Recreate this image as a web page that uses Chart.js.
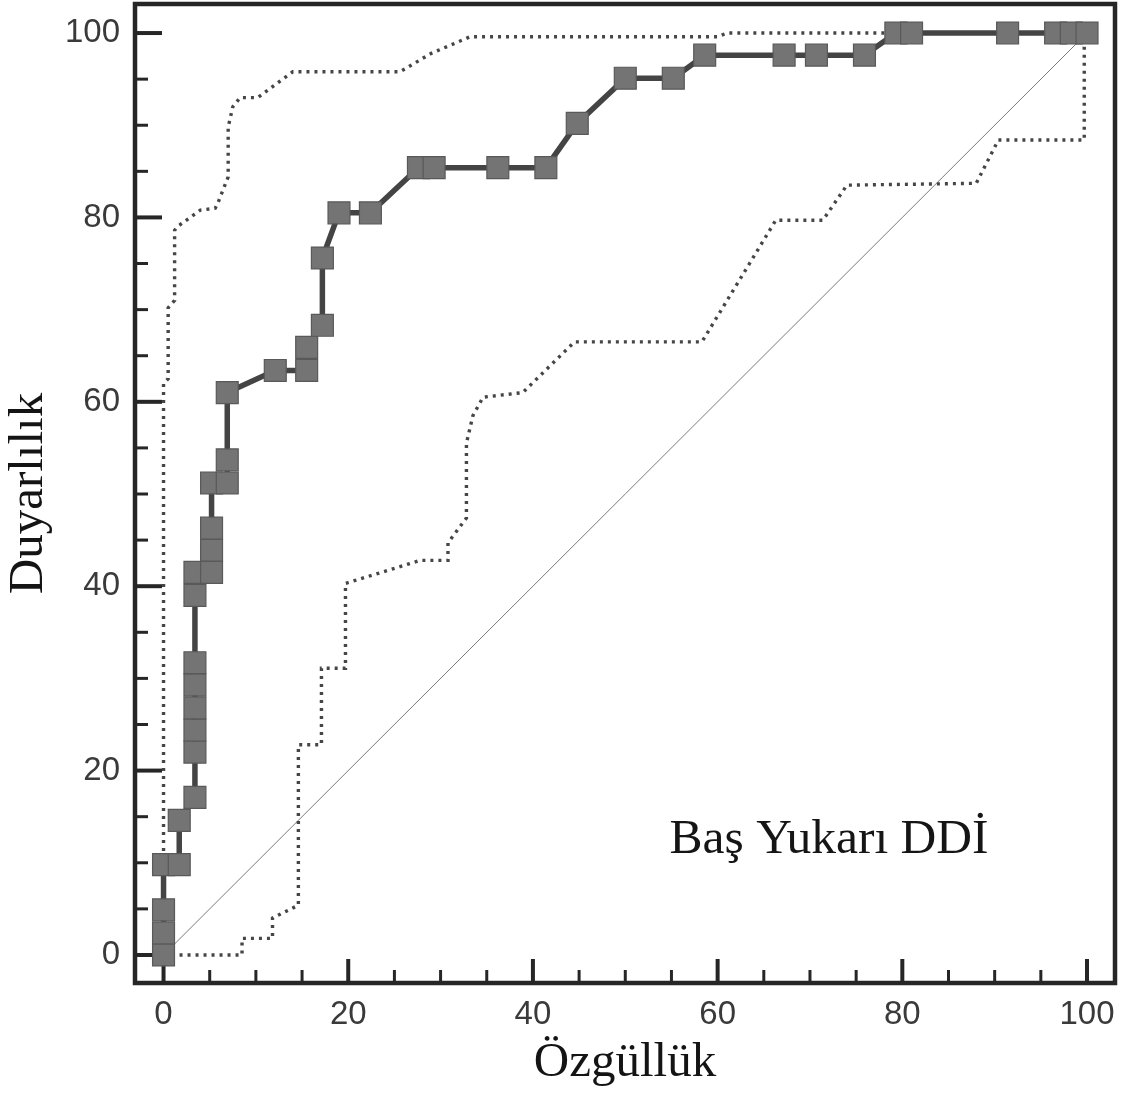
<!DOCTYPE html>
<html><head><meta charset="utf-8">
<script src="https://cdn.jsdelivr.net/npm/chart.js@4.4.0/dist/chart.umd.min.js"></script>
<style>html,body{margin:0;padding:0;background:#fff;}canvas{display:block;}</style>
</head><body>
<canvas id="c" width="1121" height="1095"></canvas>
<script>
// ROC curve points (Özgüllük axis value, Duyarlılık)
const rocX = [0,0,0,0,1.7,1.7,3.4,3.4,3.4,3.4,3.4,3.4,3.4,3.4,5.2,5.2,5.2,5.2,6.9,6.9,6.9,12.1,15.5,15.5,17.2,17.2,19.0,22.4,27.6,29.3,36.2,41.4,44.8,50.0,55.2,58.6,67.2,70.7,75.9,79.3,81.0,91.4,96.6,98.3,100];
const rocY = [0,2.4,4.9,9.8,9.8,14.6,17.1,22.0,24.4,26.8,29.3,31.7,39.0,41.5,41.5,43.9,46.3,51.2,51.2,53.7,61.0,63.4,63.4,65.9,68.3,75.6,80.5,80.5,85.4,85.4,85.4,85.4,90.2,95.1,95.1,97.6,97.6,97.6,97.6,100,100,100,100,100,100];
// upper confidence band
const upperX = [0,0,0.5,0.5,1.2,1.2,1.5,4.0,5.6,5.9,7.0,7.0,7.5,8.3,10.2,14.0,25.6,29.0,33.2,60.0,61.0,100];
const upperY = [0,62,62.5,70.2,71,78.6,79.0,80.8,81.0,81.6,84.4,89.8,92,93,93,95.8,95.8,97.8,99.6,99.6,100,100];
// lower confidence band
const lowerX = [0,8.5,8.5,11.8,11.8,14.6,14.6,17.1,17.1,19.7,19.7,27.8,30.8,30.8,32.8,32.8,33.5,34.6,38.9,44.5,58.3,66.3,71.4,74.0,88.0,90.4,99.7,99.7,100];
const lowerY = [0,0,1.8,1.8,4.0,5.4,22.8,22.8,31.1,31.1,40.3,42.8,42.8,44.7,47.4,55.5,58.5,60.5,61.0,66.5,66.5,79.7,79.7,83.5,83.7,88.4,88.4,98.5,100];
// reference diagonal
const diagX = [0,100];
const diagY = [0,100];
// ticks
const tickValues = [0,20,40,60,80,100];
const xTickLabels = ['0','20','40','60','80','100'];
const yTickLabels = ['0','20','40','60','80','100'];
const minorTickValues = [0,5,10,15,20,25,30,35,40,45,50,55,60,65,70,75,80,85,90,95,100];
const xTitle = 'Özgüllük';
const yTitle = 'Duyarlılık';
const panelLabel = 'Baş Yukarı DDİ';
const panelLabelPos = [54.8, 11.1];

const pts = (xs, ys) => xs.map((v, i) => ({x: v, y: ys[i]}));

const ticksPlugin = {
  id: 'innerTicks',
  beforeDatasetsDraw(chart) {
    const {ctx, chartArea: a, scales: {x, y}} = chart;
    ctx.save();
    ctx.strokeStyle = '#262626';
    minorTickValues.forEach(v => {
      const major = tickValues.includes(v);
      ctx.lineWidth = major ? 4 : 3;
      const px = x.getPixelForValue(v);
      ctx.beginPath(); ctx.moveTo(px, a.bottom); ctx.lineTo(px, a.bottom - (major ? 24 : 13)); ctx.stroke();
      const py = y.getPixelForValue(v);
      ctx.beginPath(); ctx.moveTo(a.left, py); ctx.lineTo(a.left + (major ? 27 : 13), py); ctx.stroke();
    });
    ctx.restore();
  },
  afterDatasetsDraw(chart) {
    const {ctx, chartArea: a, scales: {x, y}} = chart;
    ctx.save();
    ctx.strokeStyle = '#262626';
    ctx.lineWidth = 4.5;
    ctx.strokeRect(a.left, a.top, a.right - a.left, a.bottom - a.top);
    ctx.fillStyle = '#151515';
    ctx.font = '49.5px "Liberation Serif", "Times New Roman", serif';
    ctx.textAlign = 'left';
    ctx.textBaseline = 'alphabetic';
    ctx.fillText(panelLabel, x.getPixelForValue(panelLabelPos[0]), y.getPixelForValue(panelLabelPos[1]));
    ctx.restore();
  }
};

const tickFont = {family: '"Liberation Sans", Arial, sans-serif', size: 33};
const titleFont = {family: '"Liberation Serif", "Times New Roman", serif', size: 49};

new Chart(document.getElementById('c'), {
  type: 'scatter',
  data: {
    datasets: [
      {
        data: pts(rocX, rocY), showLine: true,
        borderColor: '#444444', borderWidth: 5.5,
        pointStyle: 'rect', pointRadius: 15.5,
        pointBackgroundColor: '#747474', pointBorderColor: '#595959', pointBorderWidth: 1.2
      },
      {
        data: pts(upperX, upperY), showLine: true,
        borderColor: '#464646', borderWidth: 3.4, borderDash: [3, 5], pointRadius: 0
      },
      {
        data: pts(lowerX, lowerY), showLine: true,
        borderColor: '#464646', borderWidth: 3.4, borderDash: [3, 5], pointRadius: 0
      },
      {
        data: pts(diagX, diagY), showLine: true,
        borderColor: '#7a7a7a', borderWidth: 1, pointRadius: 0
      }
    ]
  },
  options: {
    responsive: false,
    devicePixelRatio: 1,
    animation: false,
    layout: {autoPadding: false, padding: {left: 0, right: 6, top: 4, bottom: 0}},
    plugins: {legend: {display: false}, tooltip: {enabled: false}},
    scales: {
      x: {
        type: 'linear', min: -3.09, max: 103.03,
        grid: {display: false, drawTicks: false},
        border: {display: false},
        afterBuildTicks: s => { s.ticks = tickValues.map(v => ({value: v})); },
        ticks: {
          autoSkip: false, maxRotation: 0, padding: 12, color: '#3a3a3a', font: tickFont,
          callback: v => xTickLabels[tickValues.indexOf(v)]
        },
        title: {display: true, text: xTitle, color: '#141414', font: titleFont, padding: {top: 0, bottom: 2}},
        afterFit: s => { s.height = 112; s.paddingLeft = 0; s.paddingRight = 0; }
      },
      y: {
        type: 'linear', min: -3.04, max: 103.15,
        grid: {display: false, drawTicks: false},
        border: {display: false},
        afterBuildTicks: s => { s.ticks = tickValues.map(v => ({value: v})); },
        ticks: {
          autoSkip: false, padding: 15, color: '#3a3a3a', font: tickFont,
          callback: v => yTickLabels[tickValues.indexOf(v)]
        },
        title: {display: true, text: yTitle, color: '#141414', font: titleFont, padding: {top: 0, bottom: 0}},
        afterFit: s => { s.width = 135; s.paddingTop = 0; s.paddingBottom = 0; }
      }
    }
  },
  plugins: [ticksPlugin]
});
</script>
</body></html>
